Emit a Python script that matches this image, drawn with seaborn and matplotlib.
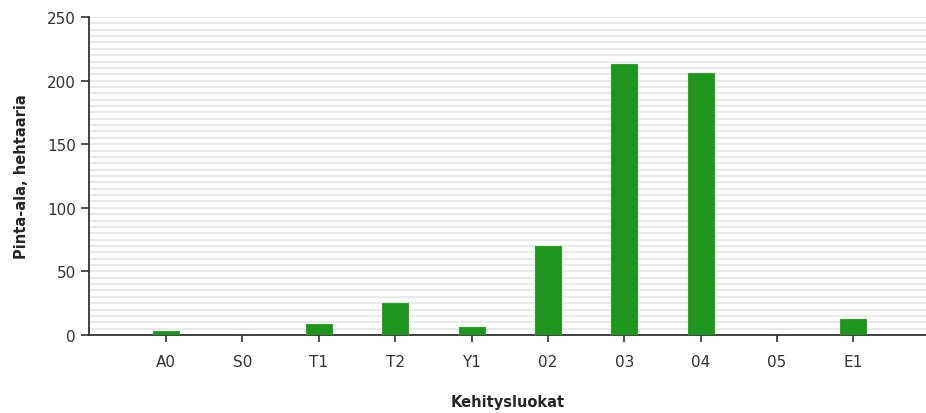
import numpy as np
import pandas as pd
import seaborn as sns
import matplotlib
matplotlib.use("Agg")
import matplotlib.pyplot as plt

# Kehitysluokat and area (ha)
categories = ['A0', 'S0', 'T1', 'T2', 'Y1', '02', '03', '04', '05', 'E1']
area_ha = [3, 0, 9, 25, 6, 70, 213, 206, 0, 12.5]

df = pd.DataFrame({'luokka': categories, 'ala': area_ha})

sns.set_style('white')
plt.rcParams['font.family'] = ['DejaVu Sans']

fig = plt.figure(figsize=(9.26, 4.14), dpi=100)
ax = fig.add_axes([0.0961, 0.1884, 0.9039, 0.7681])

sns.barplot(data=df, x='luokka', y='ala', color='#1e961e', width=0.34,
            edgecolor='#2aa52a', linewidth=0.8, saturation=1, ax=ax, zorder=3)

ax.set_ylim(0, 250)
ax.set_xlim(-1.01, 9.95)
ax.set_yticks(np.arange(0, 251, 50))
ax.set_yticks(np.arange(0, 251, 5), minor=True)
ax.grid(which='both', axis='y', color='#e8e8e8', linewidth=1.3, zorder=0)
ax.grid(False, axis='x')
ax.set_axisbelow(True)

for s in ['top', 'right']:
    ax.spines[s].set_visible(False)
for s in ['left', 'bottom']:
    ax.spines[s].set_color('#333333')
    ax.spines[s].set_linewidth(1.3)

ax.tick_params(axis='both', which='major', direction='out', length=6, width=1.2,
               color='#333333', labelsize=11, labelcolor='#333333',
               bottom=True, left=True)
ax.tick_params(axis='x', which='major', length=5, pad=9)
ax.tick_params(axis='y', which='minor', length=0)

ax.set_xlabel('Kehitysluokat', fontsize=10.5, fontweight='bold', labelpad=18)
ax.set_ylabel('Pinta-ala, hehtaaria', fontsize=10.5, fontweight='bold', labelpad=13)

fig.savefig('out.png', dpi=100)
